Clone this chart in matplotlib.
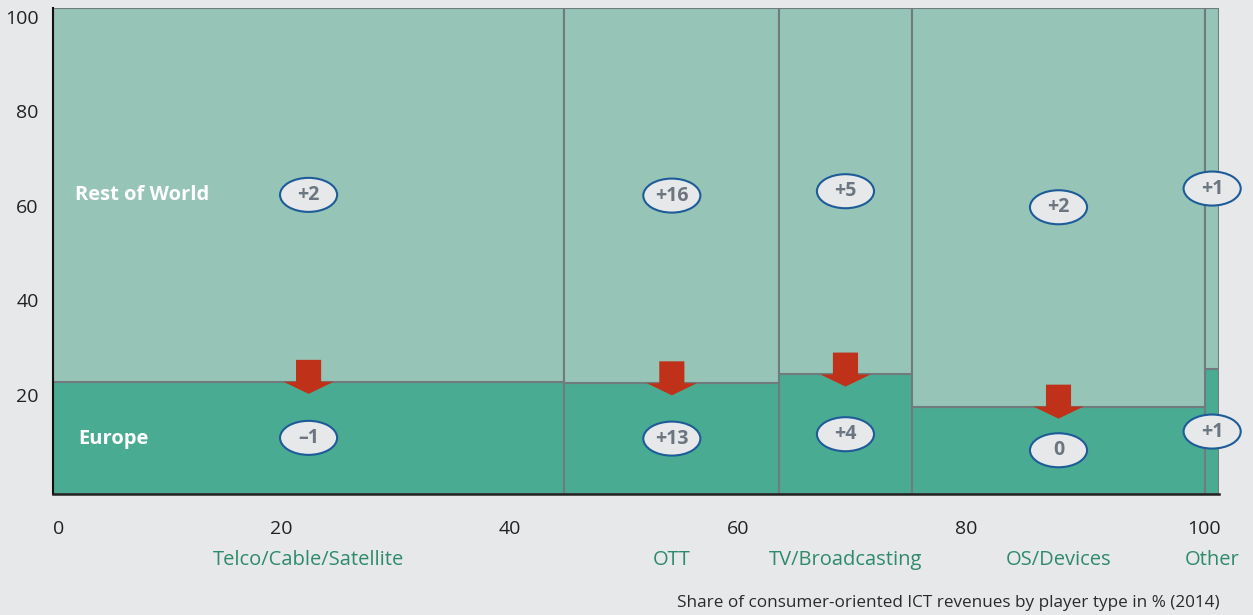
import matplotlib
matplotlib.use("Agg")
import matplotlib.pyplot as plt
from matplotlib.patches import Ellipse, Polygon
import matplotlib.transforms as mtransforms

# ---- data ----
categories = ["Telco/Cable/Satellite", "OTT", "TV/Broadcasting", "OS/Devices", "Other"]
widths = [44.8, 18.8, 11.6, 25.7, 1.2]          # share of revenues (%)
europe = [23.1, 22.8, 24.6, 18.0, 25.7]          # Europe share within category (%)
row_growth = ["+2", "+16", "+5", "+2", "+1"]     # Rest of World badges
eu_growth = ["\u20131", "+13", "+4", "0", "+1"]  # Europe badges
has_arrow = [True, True, True, True, False]
xticks = [0, 20, 40, 60, 80, 100]
yticks = [20, 40, 60, 80, 100]

# ---- style ----
BG = "#e6e8ea"
C_ROW = "#96c5b7"
C_EU = "#4aab93"
C_EDGE = "#6f7b7d"
C_ARROW = "#c0311a"
C_BADGE_EDGE = "#1d5c98"
C_BADGE_TEXT = "#6b7680"
C_CAT = "#2f8a6a"
FONT = "Open Sans"

plt.rcParams['font.family'] = [FONT, 'DejaVu Sans']

fig = plt.figure(figsize=(12.53, 6.15), dpi=100, facecolor=BG)
ax = fig.add_axes([52.7 / 1253, 1 - 494 / 615, (1219 - 52.7) / 1253, (494 - 8) / 615])
ax.set_facecolor(BG)

lefts = []
acc = 0
for w in widths:
    lefts.append(acc)
    acc += w
total = acc

rows = [100 - e for e in europe]
ax.bar(lefts, europe, width=widths, align='edge', color=C_EU, edgecolor=C_EDGE, linewidth=1.5, zorder=2)
ax.bar(lefts, rows, bottom=europe, width=widths, align='edge', color=C_ROW, edgecolor=C_EDGE, linewidth=1.5, zorder=2)

ax.set_xlim(0, total)
ax.set_ylim(0, 100)

# arrows
shaft_w, head_w, shaft_h, head_h = 2.2, 4.4, 4.5, 2.5
for l, w, e, a in zip(lefts, widths, europe, has_arrow):
    if not a:
        continue
    cx = l + w / 2
    pts = [(cx - shaft_w / 2, e + shaft_h), (cx + shaft_w / 2, e + shaft_h),
           (cx + shaft_w / 2, e), (cx + head_w / 2, e), (cx, e - head_h),
           (cx - head_w / 2, e), (cx - shaft_w / 2, e)]
    ax.add_patch(Polygon(pts, closed=True, facecolor=C_ARROW, edgecolor='none', zorder=4))

# badges
bw, bh = 5.0, 7.0
for l, w, e, rg, eg in zip(lefts, widths, europe, row_growth, eu_growth):
    cx = l + w / 2
    for yy, txt in [((e + 100) / 2, rg), (e / 2, eg)]:
        ax.add_patch(Ellipse((cx, yy), bw, bh, facecolor=BG, edgecolor=C_BADGE_EDGE,
                             linewidth=1.5, zorder=5, clip_on=False))
        ax.text(cx, yy, txt, ha='center', va='center', fontsize=14, fontweight='bold',
                color=C_BADGE_TEXT, zorder=6, clip_on=False)

# series labels
ax.text(1.95, (europe[0] + 100) / 2, "Rest of World", ha='left', va='center', color='white',
        fontsize=14.5, fontweight='bold', zorder=6)
ax.text(2.2, europe[0] / 2 - 0.3, "Europe", ha='left', va='center', color='white',
        fontsize=14.5, fontweight='bold', zorder=6)

# category labels
for l, w, c in zip(lefts, widths, categories):
    ax.text(l + w / 2, -13.6, c, ha='center', va='center', color=C_CAT, fontsize=14.5,
            clip_on=False)

# footer
fig.text(1220 / 1253, 1 - 603 / 615, "Share of consumer-oriented ICT revenues by player type in % (2014)",
         ha='right', va='center', fontsize=12.3, color='#2a2a2a')

# x axis styling
ax.set_xticks(xticks)
ax.set_xticklabels([str(t) for t in xticks])
ax.tick_params(axis='x', length=0, pad=19, labelsize=14, labelcolor='#222222')
xl = ax.get_xticklabels()
xl[0].set_ha('left')
xl[-1].set_transform(xl[-1].get_transform() + mtransforms.ScaledTranslation(9 / 100, 0, fig.dpi_scale_trans))
ax.set_yticks([])

# y tick labels on a twin scale (labels sit slightly compressed relative to the plot area)
ay = ax.twinx()
ay.set_ylim(-1.05, 101.8)
ay.set_yticks(yticks)
ay.set_yticklabels([str(t) for t in yticks])
ay.yaxis.tick_left()
ay.tick_params(axis='y', length=0, pad=10, labelsize=14, labelcolor='#222222')
for s in ay.spines.values():
    s.set_visible(False)

for s in ['top', 'right']:
    ax.spines[s].set_visible(False)
ax.spines['left'].set_color('#111111')
ax.spines['left'].set_linewidth(1.5)
ax.spines['bottom'].set_color('#222222')
ax.spines['bottom'].set_linewidth(1.8)
ax.spines['left'].set_zorder(7)
ax.spines['bottom'].set_zorder(7)

fig.savefig("out.png", dpi=100, facecolor=BG)
